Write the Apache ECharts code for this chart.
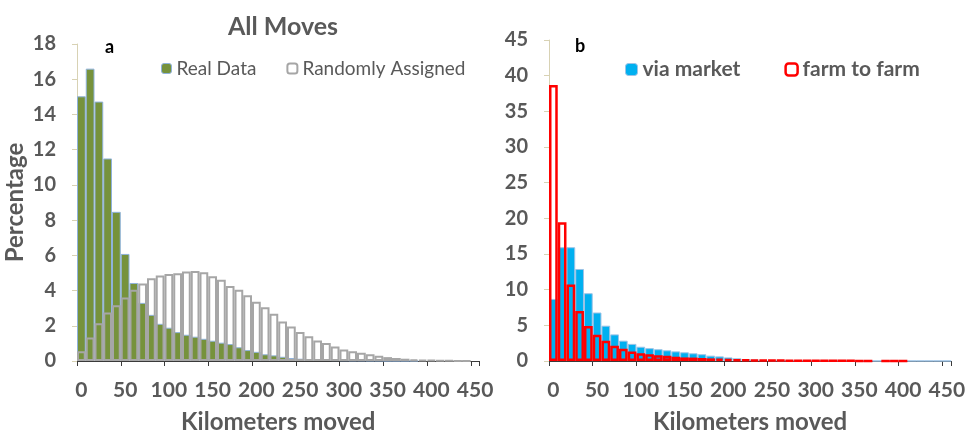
<!DOCTYPE html>
<html>
<head>
<meta charset="utf-8">
<script src="https://cdn.jsdelivr.net/npm/echarts@6/dist/echarts.min.js"></script>
<style>html,body{margin:0;padding:0;background:#fff;}#c{width:968px;height:439px;}</style>
</head>
<body>
<div id="c"></div>
<script>
var categories = ['0','10','20','30','40','50','60','70','80','90','100','110','120','130','140','150','160','170','180','190','200','210','220','230','240','250','260','270','280','290','300','310','320','330','340','350','360','370','380','390','400','410','420','430','440','450'];
var realData = [15.03,16.6,14.73,11.5,8.47,6.08,4.43,3.3,2.62,2.11,1.89,1.64,1.49,1.38,1.26,1.15,1.04,0.96,0.78,0.62,0.52,0.38,0.32,0.24,0.17,0.13,0.11,0.09,0.07,0.05,0.04,0.03,0.03,0.02,0.02,0.01,0.01,0.01,0.01,null,null,null,null,null,null,null];
var randomlyAssigned = [0.55,1.34,2.15,2.75,3.17,3.6,4.04,4.4,4.7,4.85,4.94,4.98,5.08,5.11,5.04,4.81,4.62,4.26,4.04,3.73,3.36,3.05,2.68,2.24,1.96,1.64,1.41,1.17,1.02,0.83,0.66,0.55,0.47,0.38,0.3,0.22,0.17,0.13,0.09,0.07,0.05,0.03,0.02,0.01,0.01,null];
var viaMarket = [8.7,15.95,15.95,12.9,9.5,6.8,4.95,3.73,2.85,2.4,2.0,1.8,1.65,1.5,1.35,1.22,1.08,0.95,0.75,0.65,0.5,0.38,0.28,0.2,0.14,0.1,0.08,0.06,0.05,0.04,0.03,0.03,0.02,0.02,0.02,0.02,0.01,0.01,0.01,0.01,0.01,0.01,0.01,0.01,0.01,0.01];
var farmToFarm = [38.7,19.45,10.73,7.0,4.9,3.68,2.85,2.15,1.7,1.33,1.1,0.93,0.8,0.72,0.6,0.5,0.48,0.42,0.37,0.33,0.28,0.23,0.2,0.17,0.15,0.13,0.11,0.1,0.08,0.07,0.06,0.05,0.05,0.04,0.04,0.03,0.03,null,0.03,0.03,0.03,null,null,null,null,null];
var leftTicks = {min: 0, max: 18, interval: 2};
var rightTicks = {min: 0, max: 45, interval: 5};

var FONT = 'Lato, "Open Sans", sans-serif';
var GREY = '#595959';
var chart = echarts.init(document.getElementById('c'), null, {renderer: 'canvas'});

function xAxis(gi) {
  return {
    type: 'category', gridIndex: gi, data: categories, boundaryGap: true,
    axisLine: {show: true, lineStyle: {color: '#3a3a3a', width: 1}},
    axisTick: {show: true, interval: 4, length: 5, lineStyle: {color: '#3a3a3a'}},
    axisLabel: {interval: 4, margin: 19, color: GREY, fontFamily: FONT, fontWeight: 'bold', fontSize: 21},
    name: 'Kilometers moved', nameLocation: 'middle', nameGap: 49,
    nameTextStyle: {color: GREY, fontFamily: FONT, fontWeight: 'bold', fontSize: 24}
  };
}
function yAxis(gi, t, name) {
  var a = {
    type: 'value', gridIndex: gi, min: t.min, max: t.max, interval: t.interval,
    axisLine: {show: true, lineStyle: {color: '#d8d2b4', width: 1}},
    axisTick: {show: true, length: 5, lineStyle: {color: '#d8d2b4'}},
    splitLine: {show: false},
    axisLabel: {margin: 21, color: GREY, fontFamily: FONT, fontWeight: 'bold', fontSize: 20}
  };
  if (name) {
    a.name = name; a.nameLocation = 'middle'; a.nameGap = 50;
    a.nameTextStyle = {color: GREY, fontFamily: FONT, fontWeight: 'bold', fontSize: 24};
  }
  return a;
}

var option = {
  animation: false,
  backgroundColor: '#fff',
  title: [
    {text: 'All Moves', left: 278, top: 9, textAlign: 'center',
     textStyle: {color: GREY, fontFamily: FONT, fontWeight: 'bold', fontSize: 25}},
    {text: 'a', left: 100, top: 33, textStyle: {color: '#000', fontFamily: FONT, fontWeight: 'bold', fontSize: 18}},
    {text: 'b', left: 570, top: 32, textStyle: {color: '#000', fontFamily: FONT, fontWeight: 'bold', fontSize: 18}}
  ],
  legend: [
    {left: 156, top: 54, itemWidth: 10, itemHeight: 10, itemGap: 30,
     textStyle: {color: GREY, fontFamily: FONT, fontSize: 19},
     data: [
       {name: 'Real Data', itemStyle: {color: '#76923c', borderColor: '#8fb2dc', borderWidth: 1}},
       {name: 'Randomly Assigned', itemStyle: {color: '#fff', borderColor: '#a6a6a6', borderWidth: 2}}
     ]},
    {left: 620, top: 54, itemWidth: 12, itemHeight: 12, itemGap: 44,
     textStyle: {color: GREY, fontFamily: FONT, fontWeight: 'bold', fontSize: 21},
     data: [
       {name: 'via market', itemStyle: {color: '#00b0f0', borderColor: '#9dc3e6', borderWidth: 1}},
       {name: 'farm to farm', itemStyle: {color: '#fff', borderColor: '#ff0000', borderWidth: 2.5}}
     ]}
  ],
  grid: [
    {left: 77, top: 44, width: 402.5, height: 318},
    {left: 549, top: 40, width: 408, height: 322}
  ],
  xAxis: [xAxis(0), xAxis(1)],
  yAxis: [yAxis(0, leftTicks, 'Percentage'), yAxis(1, rightTicks, null)],
  series: [
    {name: 'Real Data', type: 'bar', xAxisIndex: 0, yAxisIndex: 0, data: realData,
     barCategoryGap: '0%', barGap: '-100%',
     itemStyle: {color: '#76923c', borderColor: '#8fb2dc', borderWidth: 1}},
    {name: 'Randomly Assigned', type: 'bar', xAxisIndex: 0, yAxisIndex: 0, data: randomlyAssigned,
     barCategoryGap: '0%', barGap: '-100%',
     itemStyle: {color: 'rgba(0,0,0,0)', borderColor: '#a6a6a6', borderWidth: 2}},
    {name: 'via market', type: 'bar', xAxisIndex: 1, yAxisIndex: 1, data: viaMarket,
     barCategoryGap: '0%', barGap: '-100%',
     itemStyle: {color: '#00b0f0', borderColor: '#9dc3e6', borderWidth: 1}},
    {name: 'farm to farm', type: 'bar', xAxisIndex: 1, yAxisIndex: 1, data: farmToFarm,
     barCategoryGap: '0%', barGap: '-100%',
     itemStyle: {color: 'rgba(0,0,0,0)', borderColor: '#ff0000', borderWidth: 2.5}}
  ]
};
chart.setOption(option);
</script>
</body>
</html>
